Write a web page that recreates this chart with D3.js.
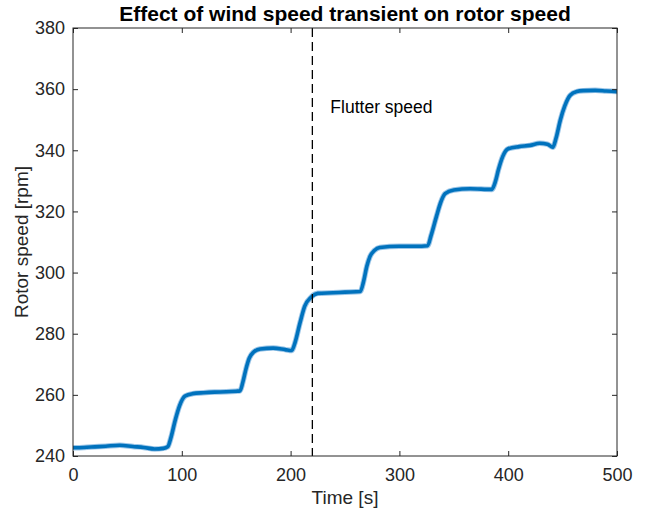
<!DOCTYPE html>
<html>
<head>
<meta charset="utf-8">
<script src="https://cdn.jsdelivr.net/npm/d3@7"></script>
<style>
  html, body { margin: 0; padding: 0; background: #fff; }
  svg { display: block; }
  text { font-family: "Liberation Sans", Arial, Helvetica, sans-serif; fill: #262626; }
</style>
</head>
<body>
<svg id="chart" width="646" height="512"></svg>
<script>
// ---- data ----
const timeS = [0, 10, 20, 30, 43, 55, 65, 75, 83, 87, 90, 94, 98, 103, 110, 120, 130, 141, 150, 153.5,
  156, 159, 162, 166, 172, 184, 195, 201, 204, 208.6, 213, 219, 225, 239, 250, 264,
  267, 270, 273, 277, 282, 300, 315, 326, 329, 334, 338, 342, 350, 365, 385,
  388, 391, 395, 400, 410, 420, 429, 436, 441, 444, 448, 452, 457, 463, 469, 480, 490, 500];
const rotorRpm = [242.7, 242.8, 243, 243.2, 243.5, 243.1, 242.8, 242.3, 242.5, 243, 246, 251.8, 256.5, 259.6, 260.4, 260.7, 260.9, 261, 261.2, 261.3,
  264, 268.5, 272, 274, 275, 275.3, 274.8, 274.5, 277, 283.5, 289, 292, 293.2, 293.4, 293.6, 293.8,
  297, 302, 305.3, 307.2, 308.2, 308.6, 308.6, 308.8, 312, 318.3, 323, 325.8, 327, 327.4, 327.2,
  329.5, 333.6, 338, 340.5, 341.2, 341.6, 342.3, 342, 341, 344, 350, 354.5, 358, 359.2, 359.5, 359.6, 359.4, 359.2];
const xTicks = [0, 100, 200, 300, 400, 500];
const yTicks = [240, 260, 280, 300, 320, 340, 360, 380];
const flutterTime = [220];
const flutterLabel = "Flutter speed";
const titleText = "Effect of wind speed transient on rotor speed";
const xLabel = "Time [s]";
const yLabel = "Rotor speed [rpm]";

// ---- layout ----
const svg = d3.select("#chart");
const L = 73, R = 617, T = 28, B = 456;
const x = d3.scaleLinear().domain([0, 500]).range([L, R]);
const y = d3.scaleLinear().domain([240, 380]).range([B, T]);
const axisColor = "#262626";
const fs = 18;

const data = timeS.map((t, i) => ({ t, v: rotorRpm[i] }));
const line = d3.line().x(d => x(d.t)).y(d => y(d.v)).curve(d3.curveMonotoneX);

svg.append("defs").append("clipPath").attr("id", "clip")
  .append("rect").attr("x", L).attr("y", T).attr("width", R - L).attr("height", B - T);

const plot = svg.append("g").attr("clip-path", "url(#clip)");
plot.append("path").datum(data).attr("d", line)
  .attr("fill", "none").attr("stroke", "#5aa0d8").attr("stroke-width", 5.5).attr("stroke-opacity", 0.6)
  .attr("stroke-linejoin", "round");
plot.append("path").datum(data).attr("d", line)
  .attr("fill", "none").attr("stroke", "#0072BD").attr("stroke-width", 3.6)
  .attr("stroke-linejoin", "round");

// flutter line
svg.selectAll(".flutter").data(flutterTime).enter().append("line")
  .attr("x1", d => x(d)).attr("x2", d => x(d)).attr("y1", T).attr("y2", B)
  .attr("stroke", "#000").attr("stroke-width", 1.3).attr("stroke-dasharray", "9,5");
svg.append("text").attr("x", x(flutterTime[0]) + 18).attr("y", 113)
  .attr("font-size", 17.5).style("fill", "#000").text(flutterLabel);

// axes
const tickLen = 5;
svg.append("rect").attr("x", L).attr("y", T).attr("width", R - L).attr("height", B - T)
  .attr("fill", "none").attr("stroke", axisColor).attr("stroke-width", 1);

const bottomAxis = d3.axisBottom(x).tickValues(xTicks).tickSizeInner(-tickLen).tickSizeOuter(0).tickPadding(12);
const gB = svg.append("g").attr("transform", `translate(0,${B})`).call(bottomAxis);
const topAxis = d3.axisTop(x).tickValues(xTicks).tickSizeInner(-tickLen).tickSizeOuter(0).tickFormat("");
const gT = svg.append("g").attr("transform", `translate(0,${T})`).call(topAxis);
const leftAxis = d3.axisLeft(y).tickValues(yTicks).tickSizeInner(-tickLen).tickSizeOuter(0).tickPadding(8);
const gL = svg.append("g").attr("transform", `translate(${L},0)`).call(leftAxis);
const rightAxis = d3.axisRight(y).tickValues(yTicks).tickSizeInner(-tickLen).tickSizeOuter(0).tickFormat("");
const gR = svg.append("g").attr("transform", `translate(${R},0)`).call(rightAxis);

[gB, gT, gL, gR].forEach(g => {
  g.select(".domain").remove();
  g.selectAll(".tick line").attr("stroke", axisColor);
  g.selectAll(".tick text").attr("font-size", fs).style("fill", axisColor)
    .attr("font-family", '"Liberation Sans", Arial, sans-serif');
});

// labels
svg.append("text").attr("x", (L + R) / 2).attr("y", 21).attr("text-anchor", "middle")
  .attr("font-size", 21).attr("font-weight", "bold").style("fill", "#000").text(titleText);
svg.append("text").attr("x", (L + R) / 2).attr("y", 504).attr("text-anchor", "middle")
  .attr("font-size", 19).text(xLabel);
svg.append("text").attr("transform", `translate(28,${(T + B) / 2}) rotate(-90)`).attr("text-anchor", "middle")
  .attr("font-size", 19).text(yLabel);
</script>
</body>
</html>
